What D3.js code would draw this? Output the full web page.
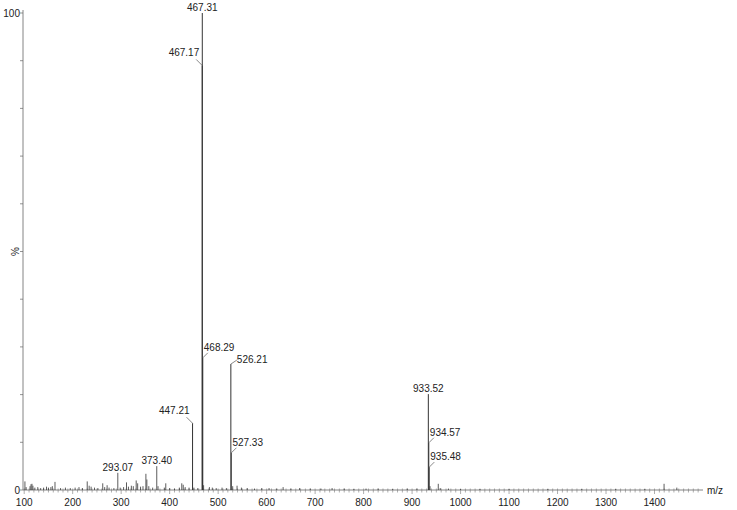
<!DOCTYPE html>
<html>
<head>
<meta charset="utf-8">
<script src="https://cdn.jsdelivr.net/npm/d3@7"></script>
<style>
  body { margin: 0; background: #fff; }
  svg text { font-family: "Liberation Sans", Arial, sans-serif; font-size: 10px; fill: #222; }
</style>
</head>
<body>
<svg id="chart" width="737" height="510"></svg>
<script>
"use strict";

// peak list: m/z and relative intensity (%)
const peakMz = [
  101.5, 104, 112, 114, 116, 118, 122, 128, 134, 140, 146, 150, 155, 158, 163.5,
  175, 185, 195, 205, 213, 220, 230, 234, 238, 245, 252, 262, 266, 271, 275, 285,
  293.07, 298, 305, 311, 315, 321, 325, 331, 334, 340, 345, 351, 353, 357, 365,
  373.40, 376, 389, 392, 400, 410, 420, 425, 428, 432, 440, 447.21, 450, 458,
  467.17, 467.31, 468.29, 470, 482, 488, 496, 508, 517, 526.21, 527.33, 530, 539,
  548, 560, 575, 590, 605, 621, 634, 650, 668, 690, 712, 735, 760, 780, 805, 830,
  860, 890, 910, 933.52, 934.57, 935.48, 937, 954, 958, 975, 1000, 1040, 1100,
  1180, 1250, 1320, 1380, 1419.7, 1446
];
const peakIntensity = [
  1.8, 0.6, 0.8, 1.2, 1.3, 0.9, 0.5, 0.6, 0.4, 0.5, 0.7, 0.5, 0.6, 0.8, 1.7,
  0.4, 0.5, 0.4, 0.5, 0.6, 0.4, 1.8, 0.9, 0.7, 0.5, 0.4, 1.4, 0.6, 1.0, 0.5, 0.4,
  3.6, 0.5, 0.6, 1.6, 0.7, 0.9, 0.8, 2.0, 1.4, 0.7, 0.8, 3.4, 2.2, 0.8, 0.5,
  5.0, 0.8, 0.5, 1.4, 0.4, 0.3, 0.5, 1.4, 1.1, 0.6, 0.5, 14.0, 0.5, 0.4,
  89.0, 100, 27.7, 1.0, 0.6, 0.5, 0.4, 0.5, 0.4, 26.4, 7.8, 0.8, 0.9,
  0.5, 0.4, 0.3, 0.4, 0.4, 0.3, 0.6, 0.3, 0.4, 0.3, 0.3, 0.4, 0.3, 0.2, 0.3, 0.3,
  0.2, 0.3, 0.3, 20.1, 9.9, 4.8, 0.8, 1.3, 0.4, 0.3, 0.2, 0.2, 0.2,
  0.2, 0.2, 0.2, 0.2, 1.3, 0.5
];

// labelled peaks
const labelMz = [467.31, 467.17, 468.29, 447.21, 526.21, 527.33, 373.40, 293.07, 933.52, 934.57, 935.48];

const xTickValues = [100, 200, 300, 400, 500, 600, 700, 800, 900, 1000, 1100, 1200, 1300, 1400];
const yTickLabels = [0, 100];

const peaks = peakMz.map((mz, i) => ({ mz: mz, value: peakIntensity[i] }));

// where each label sits relative to its peak top: text offset, anchor, leader start
const placement = {
  "top":     { dx: 0,  dy: -2, anchor: "middle", leader: null },
  "upLeft":  { dx: -3, dy: -9, anchor: "end",    leader: [-6, -6] },
  "upRight": { dx: 1,  dy: -7, anchor: "start",  leader: [5, -5] },
  "right":   { dx: 6,  dy: -1, anchor: "start",  leader: [6, -4] }
};
const labelSide = {
  467.31: "top", 467.17: "upLeft", 468.29: "upRight", 447.21: "upLeft",
  526.21: "right", 527.33: "upRight", 373.40: "top", 293.07: "top",
  933.52: "top", 934.57: "upRight", 935.48: "upRight"
};

const svg = d3.select("#chart");

const x = d3.scaleLinear().domain([100, 1500]).range([24.2, 703]);
const y = d3.scaleLinear().domain([0, 100]).range([490, 13]);

// x axis
const xAxis = svg.append("g").attr("transform", `translate(0, ${y(0)})`);
xAxis.append("line")
  .attr("x1", 23).attr("x2", 703)
  .attr("stroke", "#666").attr("stroke-width", 0.8);
xAxis.selectAll("line.minor")
  .data(d3.range(100, 1500, 10))
  .enter()
  .append("line")
  .attr("class", "minor")
  .attr("x1", (d) => x(d)).attr("x2", (d) => x(d))
  .attr("y1", -1.5).attr("y2", (d) => (d % 100 === 0 ? 4 : 2.5))
  .attr("stroke", "#777").attr("stroke-width", 0.6);
xAxis.selectAll("text.tick")
  .data(xTickValues)
  .enter()
  .append("text")
  .attr("class", "tick")
  .attr("x", (d) => x(d))
  .attr("y", 16)
  .attr("text-anchor", "middle")
  .text((d) => d);
xAxis.append("text")
  .attr("x", 707).attr("y", 4)
  .text("m/z");

// y axis
const yAxis = svg.append("g").attr("transform", "translate(23, 0)");
yAxis.append("line")
  .attr("y1", y(100) - 3).attr("y2", y(0))
  .attr("stroke", "#666").attr("stroke-width", 0.8);
yAxis.selectAll("line.tick")
  .data(d3.range(0, 101, 10))
  .enter()
  .append("line")
  .attr("class", "tick")
  .attr("x1", -3).attr("x2", 0)
  .attr("y1", (d) => y(d)).attr("y2", (d) => y(d))
  .attr("stroke", "#666").attr("stroke-width", 0.7);
yAxis.selectAll("text.tick")
  .data(yTickLabels)
  .enter()
  .append("text")
  .attr("class", "tick")
  .attr("x", -3)
  .attr("y", (d) => y(d))
  .attr("dy", "0.35em")
  .attr("text-anchor", "end")
  .text((d) => d);
svg.append("text")
  .attr("transform", `translate(19, ${y(50)}) rotate(-90)`)
  .attr("text-anchor", "middle")
  .text("%");

// peaks as sticks
svg.append("g")
  .selectAll("line")
  .data(peaks)
  .enter()
  .append("line")
  .attr("x1", (d) => x(d.mz)).attr("x2", (d) => x(d.mz))
  .attr("y1", y(0))
  .attr("y2", (d) => y(d.value))
  .attr("stroke", "#333")
  .attr("stroke-width", (d) => (d.value > 10 ? 1 : 0.8));

// peak labels with leader lines
const labelled = peaks.filter((d) => labelMz.includes(d.mz));
const labelG = svg.append("g")
  .selectAll("g")
  .data(labelled)
  .enter()
  .append("g")
  .attr("transform", (d) => `translate(${x(d.mz)}, ${y(d.value)})`);

labelG.append("text")
  .attr("x", (d) => placement[labelSide[d.mz]].dx)
  .attr("y", (d) => placement[labelSide[d.mz]].dy)
  .attr("text-anchor", (d) => placement[labelSide[d.mz]].anchor)
  .text((d) => d.mz.toFixed(2));

labelG.filter((d) => placement[labelSide[d.mz]].leader)
  .append("line")
  .attr("x1", (d) => placement[labelSide[d.mz]].leader[0])
  .attr("y1", (d) => placement[labelSide[d.mz]].leader[1])
  .attr("x2", 0).attr("y2", 0)
  .attr("stroke", "#555").attr("stroke-width", 0.7);
</script>
</body>
</html>
